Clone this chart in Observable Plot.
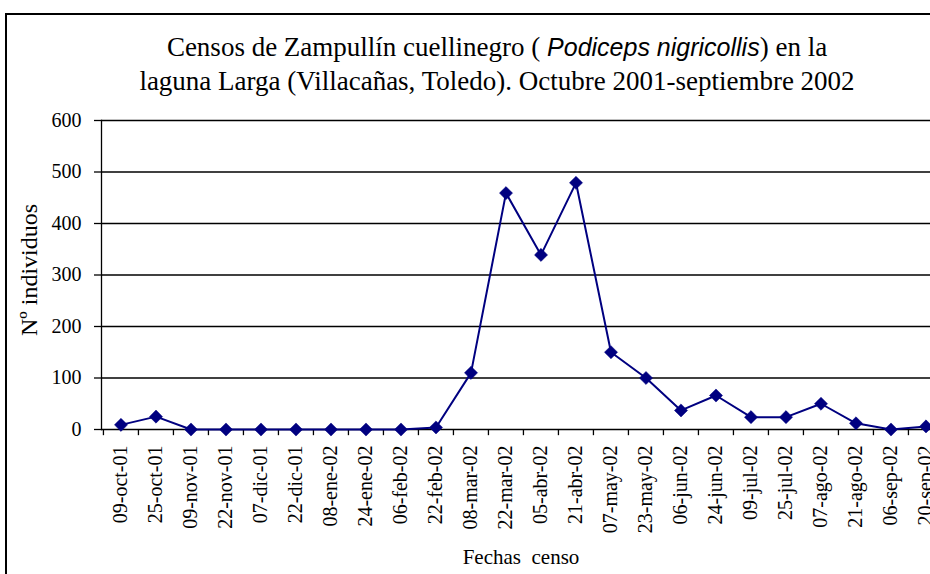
<!DOCTYPE html>
<html>
<head>
<meta charset="utf-8">
<script src="https://cdn.jsdelivr.net/npm/d3@7"></script>
<script src="https://cdn.jsdelivr.net/npm/@observablehq/plot@0.6"></script>
<style>
  html, body { margin: 0; padding: 0; width: 930px; height: 574px; overflow: hidden; background: #fff; }
  #frame { position: absolute; left: 5px; top: 13px; width: 1000px; height: 700px; border: 2px solid #000; }
  .tline { position: absolute; left: 0; width: 994px; text-align: center; font-family: "Liberation Serif", "Times New Roman", serif; font-size: 27px; line-height: 34px; color: #000; white-space: nowrap; }
  .tline i { font-family: "Liberation Sans", Arial, sans-serif; font-size: 25px; }
  #chart { position: absolute; left: 0; top: 0; }
</style>
</head>
<body>
<div id="frame"></div>
<div class="tline" style="top:30px">Censos de Zampullín cuellinegro ( <i>Podiceps nigricollis</i>) en la</div>
<div class="tline" style="top:64px">laguna Larga (Villacañas, Toledo). Octubre 2001-septiembre 2002</div>
<div id="chart"></div>
<script>
const fechas = ["09-oct-01","25-oct-01","09-nov-01","22-nov-01","07-dic-01","22-dic-01","08-ene-02","24-ene-02","06-feb-02","22-feb-02","08-mar-02","22-mar-02","05-abr-02","21-abr-02","07-may-02","23-may-02","06-jun-02","24-jun-02","09-jul-02","25-jul-02","07-ago-02","21-ago-02","06-sep-02","20-sep-02"];
const individuos = [9,25,0,0,0,0,0,0,0,4,110,459,339,479,150,100,37,66,24,24,50,12,0,6];
const yTicks = [0,100,200,300,400,500,600];
const yTitle = "Nº individuos";
const xTitle = "Fechas\u00a0 censo";

const data = fechas.map((f, i) => ({fecha: f, n: individuos[i]}));
const xRange = [101, 944];
const bw = (xRange[1] - xRange[0]) / fechas.length;
const navy = "#000080";

const chart = Plot.plot({
  width: 930,
  height: 574,
  marginTop: 120,
  marginBottom: 145,
  marginLeft: 101,
  marginRight: 0,
  style: {fontFamily: "'Liberation Serif', 'Times New Roman', serif", fontSize: "20px", background: "transparent", color: "#000", overflow: "visible"},
  x: {type: "band", domain: fechas, range: xRange, padding: 0, label: null},
  y: {domain: [0, 600], range: [429, 120], label: null},
  marks: [
    Plot.ruleY(yTicks, {stroke: "#000", strokeWidth: 1.3}),
    Plot.frame({anchor: "left", stroke: "#000", strokeWidth: 1.3}),
    Plot.ruleX(fechas, {x: d => d, y1: 0, y2: -12, dx: -bw / 2, stroke: "#000", strokeWidth: 1.3}),
    Plot.axisY({ticks: yTicks, tickSize: 7, tickPadding: 13, fontSize: 20, label: null, stroke: "#000", strokeWidth: 1.3}),
    Plot.axisX({tickSize: 0, tickRotate: -90, tickPadding: 16, fontSize: 20, label: null}),
    Plot.line(data, {x: "fecha", y: "n", stroke: navy, strokeWidth: 2}),
    Plot.dot(data, {x: "fecha", y: "n", symbol: "diamond2", r: 5.9, fill: navy, stroke: navy, strokeWidth: 0.5}),
    Plot.text([yTitle], {frameAnchor: "left", rotate: -90, textAnchor: "start", dx: -72, dy: 61, fontSize: 24}),
    Plot.text([xTitle], {frameAnchor: "bottom", lineAnchor: "bottom", dx: 5, dy: 134, fontSize: 21})
  ]
});
document.getElementById("chart").appendChild(chart);
</script>
</body>
</html>
